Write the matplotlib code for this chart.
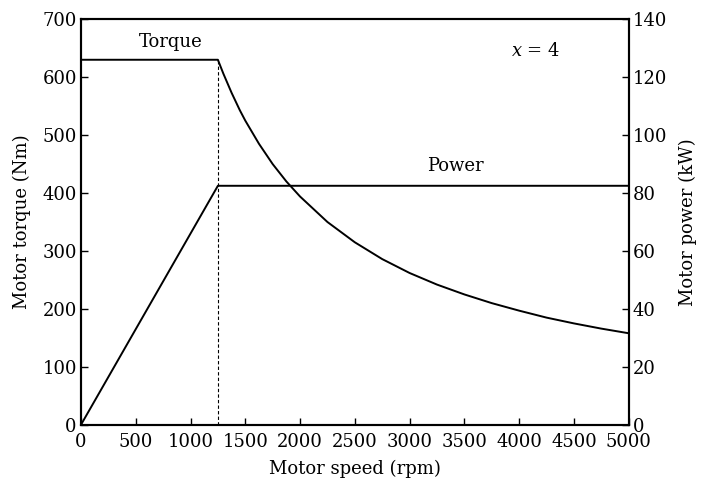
import matplotlib
matplotlib.use("Agg")
import matplotlib.pyplot as plt

# Data
speed_rpm = [0, 1250, 1300, 1375, 1450, 1500, 1625, 1750, 1875, 2000, 2250,
             2500, 2750, 3000, 3250, 3500, 3750, 4000, 4250, 4500, 4750, 5000]
torque_nm = [630, 630, 606, 573, 543, 525, 485, 450, 420, 394, 350,
             315, 286, 262, 242, 225, 210, 197, 185, 175, 166, 158]
power_speed = [0, 1250, 5000]
power_kw = [0, 82.5, 82.5]
base_speed = 1250
base_torque = 630

xticks = [0, 500, 1000, 1500, 2000, 2500, 3000, 3500, 4000, 4500, 5000]
yticks_left = [0, 100, 200, 300, 400, 500, 600, 700]
yticks_right = [0, 20, 40, 60, 80, 100, 120, 140]

plt.rcParams['font.family'] = ['DejaVu Serif']
plt.rcParams['mathtext.fontset'] = 'dejavuserif'
fs = 13

fig = plt.figure(figsize=(7.04, 4.8), dpi=100)
ax = fig.add_axes([0.115, 0.115, 0.778, 0.845])
ax2 = ax.twinx()

ax.plot(speed_rpm, torque_nm, color='black', lw=1.4)
ax.plot([base_speed, base_speed], [0, base_torque], color='black', lw=0.8,
        linestyle=(0, (3, 2)))
ax2.plot(power_speed, power_kw, color='black', lw=1.4)

ax.set_xlim(0, 5000)
ax.set_ylim(0, 700)
ax2.set_ylim(0, 140)
ax.set_xticks(xticks)
ax.set_yticks(yticks_left)
ax2.set_yticks(yticks_right)

for a in (ax, ax2):
    a.tick_params(direction='in', length=5, width=1, labelsize=fs, pad=3)
    for s in a.spines.values():
        s.set_linewidth(1.5)
ax.tick_params(axis='x', pad=6)

ax.set_xlabel('Motor speed (rpm)', fontsize=fs, labelpad=6)
ax.set_ylabel('Motor torque (Nm)', fontsize=fs, labelpad=8)
ax2.set_ylabel('Motor power (kW)', fontsize=fs, labelpad=8)

ax.text(820, 660, 'Torque', fontsize=fs, ha='center', va='center')
ax2.text(3420, 89.5, 'Power', fontsize=fs, ha='center', va='center')
ax.text(4150, 645, r'$x$ = 4', fontsize=fs, ha='center', va='center')

fig.savefig('out.png', dpi=100)
